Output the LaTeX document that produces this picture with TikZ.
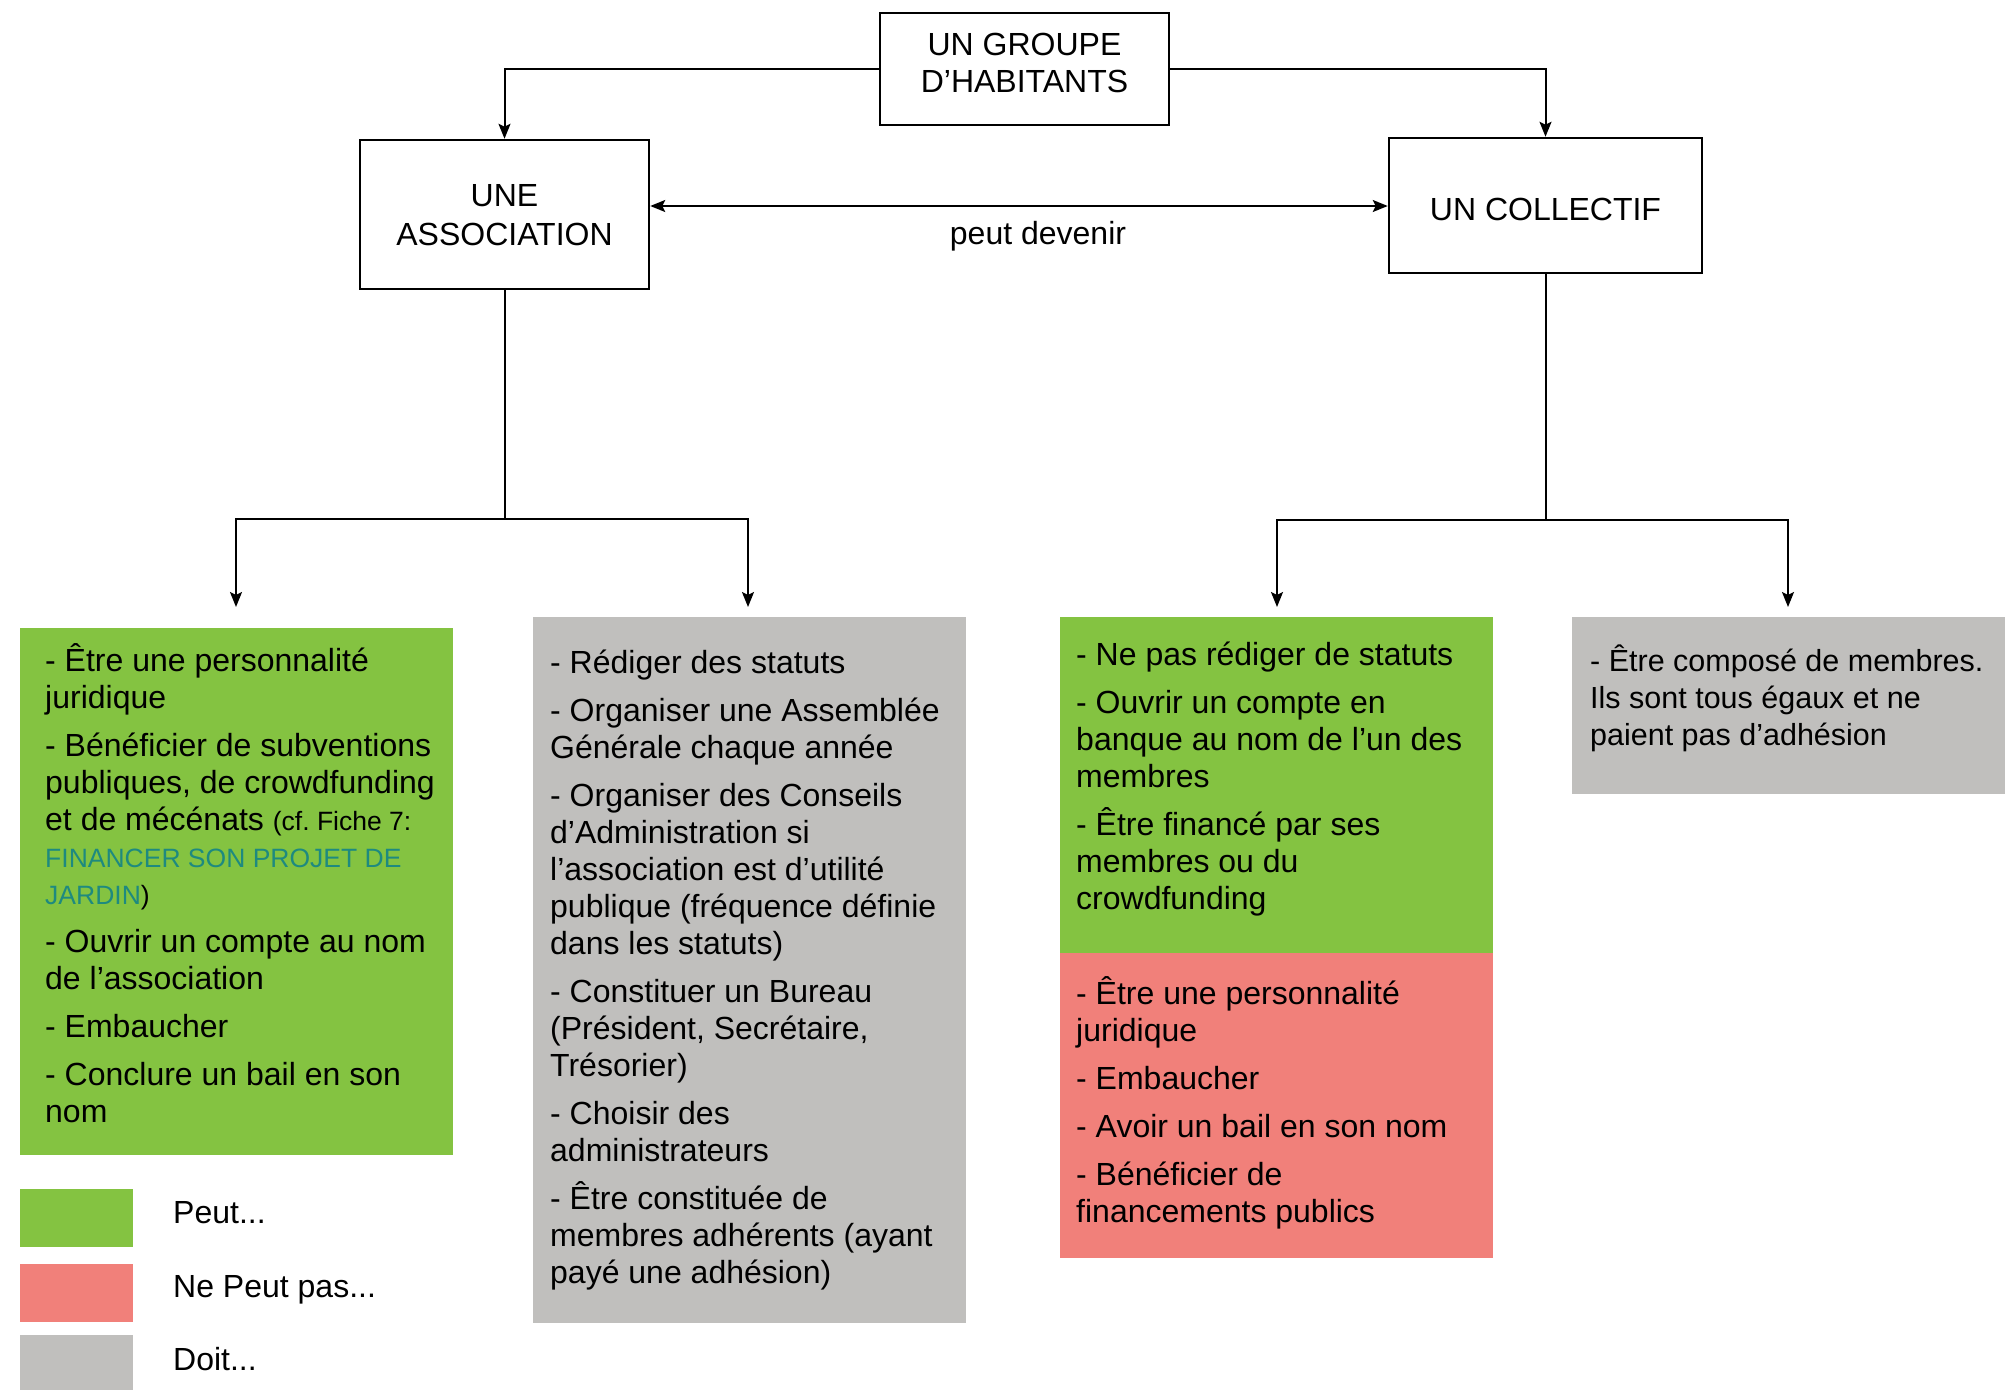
\documentclass[tikz,border=0pt]{standalone}
\usepackage{fontspec}
\setmainfont{Liberation Sans}
\usetikzlibrary{arrows.meta}

\definecolor{cangreen}{RGB}{132,195,65}
\definecolor{cannotred}{RGB}{241,128,122}
\definecolor{mustgray}{RGB}{192,191,189}
\definecolor{linkteal}{RGB}{30,138,127}

\newcommand\txtbig{\fontsize{32}{37}\selectfont\frenchspacing}
\newcommand\txtsmall{\fontsize{26.5}{37}\selectfont\frenchspacing}

\tikzset{
  frame/.style={draw=black, line width=2.5pt, inner sep=0pt, fill=white},
  panel/.style={anchor=north west, inner sep=0pt, draw=none},
  itemtext/.style={anchor=base west, inner sep=0pt, text width=445pt, align=flush left, font=\txtbig},
  title/.style={anchor=base, inner sep=0pt, align=center, font=\txtbig},
  link/.style={line width=2pt, -{Stealth[length=15pt,width=12pt,inset=3pt]}},
  plainlink/.style={line width=2pt}
}

\begin{document}
\begin{tikzpicture}[x=1pt,y=-1pt]
\useasboundingbox (0,0) rectangle (2014,1390);

% --- top level boxes ---
\node[frame, minimum width=289pt, minimum height=112pt] (grp) at (1024.5,69) {};
\node[title] (grpT) at (1024.5,55) {UN GROUPE};
\node[title] (grpT2) at (1024.5,92) {D’HABITANTS};

\node[frame, minimum width=289pt, minimum height=149pt] (assoc) at (504.5,214.5) {};
\node[title] (assocT) at (504.5,206) {UNE};
\node[title] (assocT2) at (504.5,245) {ASSOCIATION};

\node[frame, minimum width=313pt, minimum height=135pt] (col) at (1545.5,205.5) {};
\node[title] (colT) at (1545.5,220) {UN COLLECTIF};

% --- connectors from the group ---
\draw[link] (grp.west) -| (assoc.north);
\draw[link] (grp.east) -| (col.north);

% --- "peut devenir" two-way link ---
\coordinate (lvl) at (0,206);
\draw[line width=2pt, {Stealth[length=15pt,width=12pt,inset=3pt]}-{Stealth[length=15pt,width=12pt,inset=3pt]}]
  (assoc.east |- lvl) -- (col.west |- lvl);
\node[title] (devT) at (1038,244) {peut devenir};

% --- branches below the association ---
\coordinate (jA) at (504.5,519);
\coordinate (aL) at (236,607);
\coordinate (aR) at (748,607);
\draw[plainlink] (assoc.south) -- (jA);
\draw[link] (jA) -| (aL);
\draw[link] (jA) -| (aR);

% --- branches below the collective ---
\coordinate (jC) at (1545.5,520);
\coordinate (cL) at (1277,607);
\coordinate (cR) at (1788,607);
\draw[plainlink] (col.south) -- (jC);
\draw[link] (jC) -| (cL);
\draw[link] (jC) -| (cR);

% --- coloured panels ---
\node[panel, fill=cangreen, minimum width=433pt, minimum height=527pt] (assocCan) at (20,628) {};
\node[panel, fill=mustgray, minimum width=433pt, minimum height=706pt] (assocMust) at (533,617) {};
\node[panel, fill=cangreen, minimum width=433pt, minimum height=336pt] (colCan) at (1060,617) {};
\node[panel, fill=cannotred, minimum width=433pt, minimum height=305pt] (colCannot) at (1060,953) {};
\node[panel, fill=mustgray, minimum width=433pt, minimum height=177pt] (colMust) at (1572,617) {};

% --- association: can ---
\node[itemtext] (assocCanT) at (45,671) {%
- Être une personnalité\\
juridique\\[11pt]
- Bénéficier de subventions\\
publiques, de crowdfunding\\
et de mécénats {\txtsmall (cf. Fiche 7:}\\
{\txtsmall\color{linkteal}FINANCER SON PROJET DE}\\
{\txtsmall\color{linkteal}JARDIN}{\txtsmall)}\\[11pt]
- Ouvrir un compte au nom\\
de l’association\\[11pt]
- Embaucher\\[11pt]
- Conclure un bail en son\\
nom};

% --- association: must ---
\node[itemtext] (assocMustT) at (550,673) {%
- Rédiger des statuts\\[11pt]
- Organiser une Assemblée\\
Générale chaque année\\[11pt]
- Organiser des Conseils\\
d’Administration si\\
l’association est d’utilité\\
publique (fréquence définie\\
dans les statuts)\\[11pt]
- Constituer un Bureau\\
(Président, Secrétaire,\\
Trésorier)\\[11pt]
- Choisir des\\
administrateurs\\[11pt]
- Être constituée de\\
membres adhérents (ayant\\
payé une adhésion)};

% --- collective: can ---
\node[itemtext] (colCanT) at (1076,665) {%
- Ne pas rédiger de statuts\\[11pt]
- Ouvrir un compte en\\
banque au nom de l’un des\\
membres\\[11pt]
- Être financé par ses\\
membres ou du\\
crowdfunding};

% --- collective: cannot ---
\node[itemtext] (colCannotT) at (1076,1004) {%
- Être une personnalité\\
juridique\\[11pt]
- Embaucher\\[11pt]
- Avoir un bail en son nom\\[11pt]
- Bénéficier de\\
financements publics};

% --- collective: must ---
\node[itemtext, font=\fontsize{30.5}{37}\selectfont] (colMustT) at (1590,671) {%
- Être composé de membres.\\
Ils sont tous égaux et ne\\
paient pas d’adhésion};

% --- legend ---
\node[panel, fill=cangreen, minimum width=113pt, minimum height=58pt] (keyCan) at (20,1189) {};
\node[panel, fill=cannotred, minimum width=113pt, minimum height=58pt] (keyCannot) at (20,1264) {};
\node[panel, fill=mustgray, minimum width=113pt, minimum height=55pt] (keyMust) at (20,1335) {};
\node[itemtext] (keyCanT) at (173,1223) {Peut...};
\node[itemtext] (keyCannotT) at (173,1297) {Ne Peut pas...};
\node[itemtext] (keyMustT) at (173,1370) {Doit...};
\end{tikzpicture}
\end{document}
